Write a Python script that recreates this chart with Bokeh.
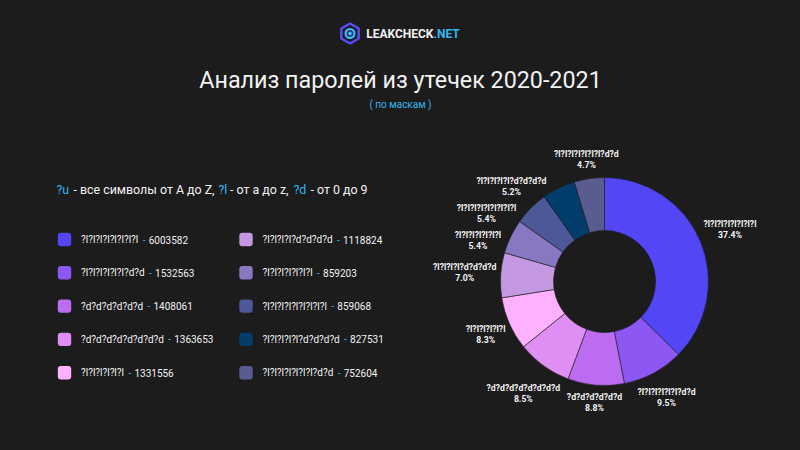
import numpy as np
from bokeh.plotting import figure
from bokeh.models import Range1d
from bokeh.embed import file_html
from bokeh.resources import INLINE
from bokeh.core.properties import value

# ---------------- data ----------------
masks = ["?l?l?l?l?l?l?l?l", "?l?l?l?l?l?l?d?d", "?d?d?d?d?d?d", "?d?d?d?d?d?d?d?d",
         "?l?l?l?l?l?l", "?l?l?l?l?d?d?d?d", "?l?l?l?l?l?l?l", "?l?l?l?l?l?l?l?l?l",
         "?l?l?l?l?l?d?d?d?d", "?l?l?l?l?l?l?l?d?d"]
counts = [6003582, 1532563, 1408061, 1363653, 1331556,
          1118824, 859203, 859068, 827531, 752604]
colors = ["#5246f6", "#8d57f3", "#bb6cf0", "#df8ff4", "#feb2fd",
          "#c499e2", "#8878c2", "#4d5898", "#023d6c", "#5a5c91"]
title = "Анализ паролей из утечек 2020-2021"
subtitle = "( по маскам )"
brand = "LEAKCHECK"
brand_tld = ".NET"
heading_texts = ["?u", "- все символы от A до Z,", "?l", "- от a до z,", "?d", "- от 0 до 9"]
heading_hl = [True, False, True, False, True, False]

# ---------------- style / layout ----------------
BG = "#1c1c1d"
CYAN = "#35b6ef"
WHITE = "#f2f2f2"
FONT = value("Roboto")
W, H = 784, 434
heading_x = [56, 73, 218, 229.5, 293, 310]

def X(px):
    return px

def Y(py):
    return H - py

CW = {'?': .472, 'l': .243, 'd': .561, '.': .263, '%': .732, ' ': .248, '-': .276}

def tw(s, size):
    return sum(CW.get(ch, .561) for ch in s) * size

p = figure(width=W, height=H, x_range=Range1d(0, W), y_range=Range1d(0, H),
           x_axis_type=None, y_axis_type=None, toolbar_location=None,
           output_backend="svg", min_border=0, background_fill_color=BG,
           border_fill_color=BG, outline_line_color=None)
p.grid.visible = False

# ---------------- logo ----------------
p.scatter(x=[X(349.5)], y=[Y(33)], marker="hex", size=20, angle=np.pi / 6,
          fill_color="#1a1a30", line_color="#5a4cf3", line_width=2.5)
p.scatter(x=[X(349.5)], y=[Y(33)], marker="circle", size=9, fill_color="#2a3a80",
          line_color="#3fc2f2", line_width=2)
p.scatter(x=[X(349.5)], y=[Y(33)], marker="circle", size=3.5, fill_color="#3fc2f2",
          line_color=None)
p.text(x=[X(433)], y=[Y(33)], text=[brand], text_font=FONT, text_font_size="12px",
       text_font_style="bold", text_color=WHITE, text_align="right", text_baseline="middle")
p.text(x=[X(433)], y=[Y(33)], text=[brand_tld], text_font=FONT, text_font_size="12px",
       text_font_style="bold", text_color=CYAN, text_align="left", text_baseline="middle")

# ---------------- titles ----------------
p.text(x=[X(400)], y=[Y(79)], text=[title], text_font=FONT, text_font_size="23.3px",
       text_color=WHITE, text_align="center", text_baseline="middle")
p.text(x=[X(400)], y=[Y(104)], text=[subtitle], text_font=FONT, text_font_size="10px",
       text_color=CYAN, text_align="center", text_baseline="middle")

# ---------------- heading ----------------
for txt, hl, hx in zip(heading_texts, heading_hl, heading_x):
    p.text(x=[X(hx)], y=[Y(189)], text=[txt], text_font=FONT, text_font_size="12.4px",
           text_color=CYAN if hl else WHITE, text_align="left", text_baseline="middle")

# ---------------- legend ----------------
row_y = [239, 272.3, 305.6, 338.9, 372.2]
col_sq = [64, 245.5]
col_tx = [80.5, 262]
sq = 13.4
for i, (m, c, col) in enumerate(zip(masks, counts, colors)):
    ci, ri = divmod(i, 5)
    cx, cy = col_sq[ci], row_y[ri]
    p.quad(left=[X(cx - sq / 2)], right=[X(cx + sq / 2)], top=[Y(cy - sq / 2)],
           bottom=[Y(cy + sq / 2)], fill_color=col, line_color=None, border_radius=3)
    tx = col_tx[ci]
    p.text(x=[X(tx)], y=[Y(cy)], text=[m], text_font=FONT, text_font_size="10px",
           text_color=WHITE, text_align="left", text_baseline="middle")
    ne = tx + tw(m, 10)
    p.text(x=[X(ne + 4.5)], y=[Y(cy)], text=["-"], text_font=FONT, text_font_size="10px",
           text_color=CYAN, text_align="left", text_baseline="middle")
    p.text(x=[X(ne + 10.5)], y=[Y(cy)], text=[str(c)], text_font=FONT, text_font_size="10px",
           text_color=WHITE, text_align="left", text_baseline="middle")

# ---------------- donut ----------------
CX, CY = 604.0, 281.0
R_OUT, R_IN = 104.0, 51.0
total = float(sum(counts))
fr = np.array(counts, dtype=float) / total
cum = np.concatenate([[0.0], np.cumsum(fr)])
start = np.pi / 2 - 2 * np.pi * cum[:-1]
end = np.pi / 2 - 2 * np.pi * cum[1:]
p.annular_wedge(x=X(CX), y=Y(CY), inner_radius=R_IN, outer_radius=R_OUT,
                start_angle=list(start), end_angle=list(end), direction="clock",
                fill_color=colors, line_color="#1c1c1d", line_width=0.6)

# labels
pcts = ["%.1f%%" % (f * 100) for f in fr]
mid = 2 * np.pi * (cum[:-1] + cum[1:]) / 2
labs = []
for i in range(len(masks)):
    w = max(tw(masks[i], 9), tw(pcts[i], 9))
    h = 22.0
    s, c = np.sin(mid[i]), np.cos(mid[i])
    r = 108 + abs(s) * w / 2 + abs(c) * h / 2
    labs.append(dict(i=i, w=w, r=r, s=s, x=CX + r * s, y=CY - r * c))

left = sorted([d for d in labs if d["s"] < 0], key=lambda d: d["y"])
for k in range(1, len(left)):
    prev, cur = left[k - 1], left[k]
    if abs(cur["x"] - prev["x"]) < (cur["w"] + prev["w"]) / 2 and cur["y"] < prev["y"] + 27:
        cur["y"] = prev["y"] + 27
        dy = cur["y"] - CY
        cur["x"] = CX - np.sqrt(max(cur["r"] ** 2 - dy ** 2, 0.0))

for d in labs:
    i = d["i"]
    p.text(x=[X(d["x"])], y=[Y(d["y"] - 5.5)], text=[masks[i]], text_font=FONT,
           text_font_size="8.7px", text_font_style="bold", text_color=WHITE,
           text_align="center", text_baseline="middle")
    p.text(x=[X(d["x"])], y=[Y(d["y"] + 5.5)], text=[pcts[i]], text_font=FONT,
           text_font_size="8.7px", text_font_style="bold", text_color=WHITE,
           text_align="center", text_baseline="middle")

html = file_html(p, INLINE)
html = html.replace("<body>", "<body style=\"background:%s\">" % BG, 1)
html = html.replace("<html", "<html style=\"background:%s\"" % BG, 1)
open("out.html", "w").write(html)
